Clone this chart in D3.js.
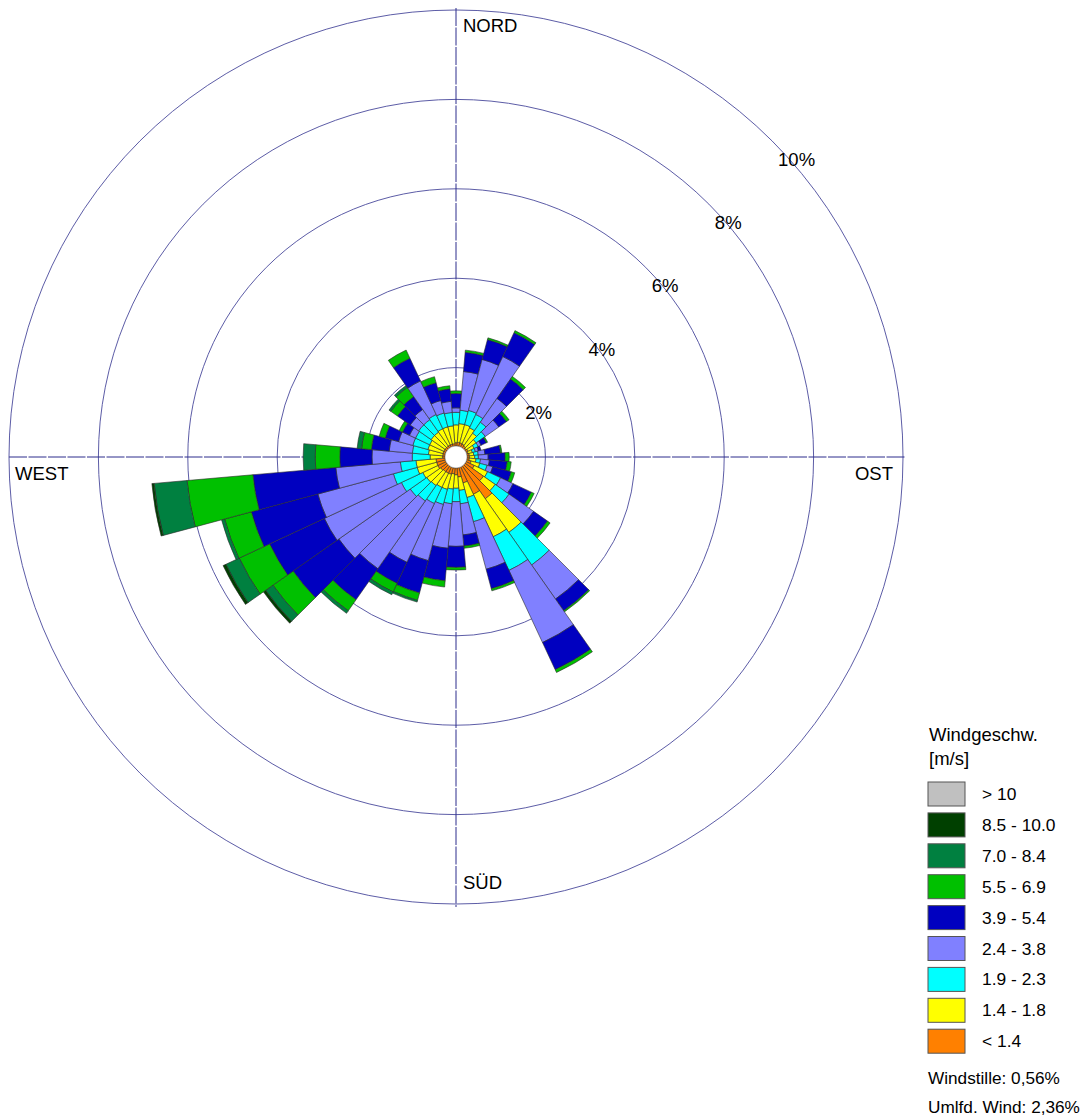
<!DOCTYPE html>
<html>
<head>
<meta charset="utf-8">
<script src="https://cdn.jsdelivr.net/npm/d3@7"></script>
<style>
  body { margin: 0; background: #fff; }
  svg { display: block; }
  text { font-family: "Liberation Sans", Arial, sans-serif; fill: #000; }
</style>
</head>
<body>
<div id="rose"></div>
<script>
// directions (degrees, clockwise from north)
var directions = [0, 10, 20, 30, 40, 50, 60, 70, 80, 90, 100, 110, 120, 130, 140, 150, 160, 170,
                  180, 190, 200, 210, 220, 230, 240, 250, 260, 270, 280, 290, 300, 310, 320, 330, 340, 350]

// frequency [%] per speed class and direction
var lt14   = [.32, .33, .33, .32, .30, .28, .30, .28, .30, .30, .30, .35, .45, .75, 1.14, .92, .60, .45,
              .40, .38, .40, .40, .40, .42, .45, .45, .45, .30, .30, .30, .30, .30, .30, .30, .30, .30]
var s14_18 = [.40, .42, .42, .40, .35, .27, .15, .10, .10, .12, .15, .20, .33, .32, .92, 1.05, .34, .30,
              .30, .34, .35, .35, .38, .38, .37, .45, .45, .28, .32, .35, .35, .38, .38, .40, .40, .40]
var s19_23 = [.28, .30, .33, .33, .30, .25, .10, .07, .10, .08, .10, .17, .32, .38, .89, .83, .56, .30,
              .30, .33, .35, .40, .42, .45, .53, .55, .35, .40, .36, .35, .35, .34, .34, .35, .32, .30]
var s24_38 = [.10, .87, 1.18, 1.43, .65, .37, .07, .07, .15, .22, .20, .13, .31, .67, .93, 1.78, 1.10, .70,
              1.00, 1.00, 1.30, 1.45, 1.85, 1.95, 1.90, 1.75, 1.45, .90, .52, .33, .15, .23, .28, .83, .29, .25]
var s39_54 = [.32, .43, .46, .59, .53, .21, .13, .06, .35, .38, .40, .43, .45, .38, .32, .67, .45, .25,
              .47, .73, .75, .52, .85, 1.25, 1.35, 1.54, 1.86, .72, .40, .31, .17, .35, .35, .56, .41, .28]
var s55_69 = [.06, .05, .04, .05, .07, .07, .03, 0, .03, .09, .09, .08, .07, .07, .03, .07, .05, .05,
              .06, .14, .17, .21, .30, .55, .75, .62, 1.48, .55, .22, .14, .08, .18, .25, .20, .14, .07]
var s70_84 = [0, 0, 0, 0, 0, 0, 0, 0, 0, 0, 0, 0, 0, 0, 0, 0, 0, 0,
              0, 0, .04, .07, .07, .20, .33, .07, .74, .27, .10, 0, 0, .05, .05, 0, 0, 0]
var s85_10 = [0, 0, 0, 0, 0, 0, 0, 0, 0, 0, 0, 0, 0, 0, 0, 0, 0, 0,
              0, 0, 0, 0, 0, .06, .07, 0, .05, 0, 0, 0, 0, 0, 0, 0, 0, 0]
var gt10   = [0, 0, 0, 0, 0, 0, 0, 0, 0, 0, 0, 0, 0, 0, 0, 0, 0, 0,
              0, 0, 0, 0, 0, 0, 0, 0, 0, 0, 0, 0, 0, 0, 0, 0, 0, 0]

var classLabels = ['> 10', '8.5 - 10.0', '7.0 - 8.4', '5.5 - 6.9', '3.9 - 5.4', '2.4 - 3.8', '1.9 - 2.3', '1.4 - 1.8', '< 1.4']
var ringTicks = [2, 4, 6, 8, 10]
var calmText = 'Windstille: 0,56%'
var varText = 'Umlfd. Wind: 2,36%'

// inner -> outer
var series = [lt14, s14_18, s19_23, s24_38, s39_54, s55_69, s70_84, s85_10, gt10]
var colors = ['#ff8000', '#ffff00', '#00ffff', '#8080ff', '#0000c0', '#00c000', '#008040', '#004000', '#c0c0c0']

var width = 1087, height = 1118
var cx = 456, cy = 457
var hole = 11

var r = d3.scaleLinear().domain([0, 10]).range([0, 447])

var svg = d3.select('#rose').append('svg')
    .attr('width', width)
    .attr('height', height)

svg.append('rect').attr('width', width).attr('height', height).attr('fill', '#fff')

var g = svg.append('g').attr('transform', `translate(${cx}, ${cy})`)

// rings
g.append('g').selectAll('circle')
    .data(ringTicks)
    .join('circle')
        .attr('r', d => r(d))
        .attr('fill', 'none')
        .attr('stroke', '#4a4a9c')
        .attr('stroke-width', 0.9)

// axes
var R = r(10)
g.append('line').attr('x1', 0).attr('x2', 0).attr('y1', -R - 2).attr('y2', R + 3)
    .attr('stroke', '#2c2c8c').attr('stroke-width', 1).attr('stroke-dasharray', '18,1.5')
g.append('line').attr('y1', 0).attr('y2', 0).attr('x1', -R).attr('x2', R + 2)
    .attr('stroke', '#2c2c8c').attr('stroke-width', 1).attr('stroke-dasharray', '18,1.5')

// stacked sectors
var arc = d3.arc()
var toRad = Math.PI / 180
var segs = []
directions.forEach(function (dir, i) {
    var cum = 0
    series.forEach(function (s, k) {
        var v = s[i]
        if (v > 0) {
            segs.push({
                startAngle: (dir - 5) * toRad,
                endAngle: (dir + 5) * toRad,
                innerRadius: Math.max(hole, r(cum)),
                outerRadius: r(cum + v),
                color: colors[k]
            })
        }
        cum += v
    })
})

g.append('g').selectAll('path')
    .data(segs)
    .join('path')
        .attr('d', d => arc(d))
        .attr('fill', d => d.color)
        .attr('stroke', '#2a2a2a')
        .attr('stroke-width', 0.6)
        .attr('stroke-linejoin', 'round')

g.append('circle').attr('r', hole).attr('fill', '#fff').attr('stroke', '#777').attr('stroke-width', 0.5)

// ring labels at 45 deg
g.append('g').selectAll('text')
    .data(ringTicks)
    .join('text')
        .attr('x', d => r(d) * Math.SQRT1_2 + 6)
        .attr('y', d => -r(d) * Math.SQRT1_2 + 25)
        .attr('font-size', 18.5)
        .text(d => d + '%')

// compass labels
svg.append('text').attr('x', 463).attr('y', 32).attr('font-size', 18.5).text('NORD')
svg.append('text').attr('x', 893).attr('y', 480).attr('font-size', 18.5).attr('text-anchor', 'end').text('OST')
svg.append('text').attr('x', 463).attr('y', 889).attr('font-size', 18.5).text('SÜD')
svg.append('text').attr('x', 15).attr('y', 480).attr('font-size', 18.5).text('WEST')

// legend
var lg = svg.append('g')
lg.append('text').attr('x', 929).attr('y', 741).attr('font-size', 18.5).text('Windgeschw.')
lg.append('text').attr('x', 929).attr('y', 765).attr('font-size', 18.5).text('[m/s]')

var legendColors = colors.slice().reverse()
var rows = lg.selectAll('g.row')
    .data(classLabels)
    .join('g')
        .attr('class', 'row')
        .attr('transform', (d, i) => `translate(928, ${782 + i * 30.9})`)

rows.append('rect')
    .attr('width', 37)
    .attr('height', 24)
    .attr('fill', (d, i) => legendColors[i])
    .attr('stroke', '#555')
    .attr('stroke-width', 1)

rows.append('text')
    .attr('x', 54)
    .attr('y', 18)
    .attr('font-size', 17.4)
    .text(d => d)

lg.append('text').attr('x', 928).attr('y', 1084).attr('font-size', 17.2).text(calmText)
lg.append('text').attr('x', 928).attr('y', 1113).attr('font-size', 17.2).text(varText)
</script>
</body>
</html>
